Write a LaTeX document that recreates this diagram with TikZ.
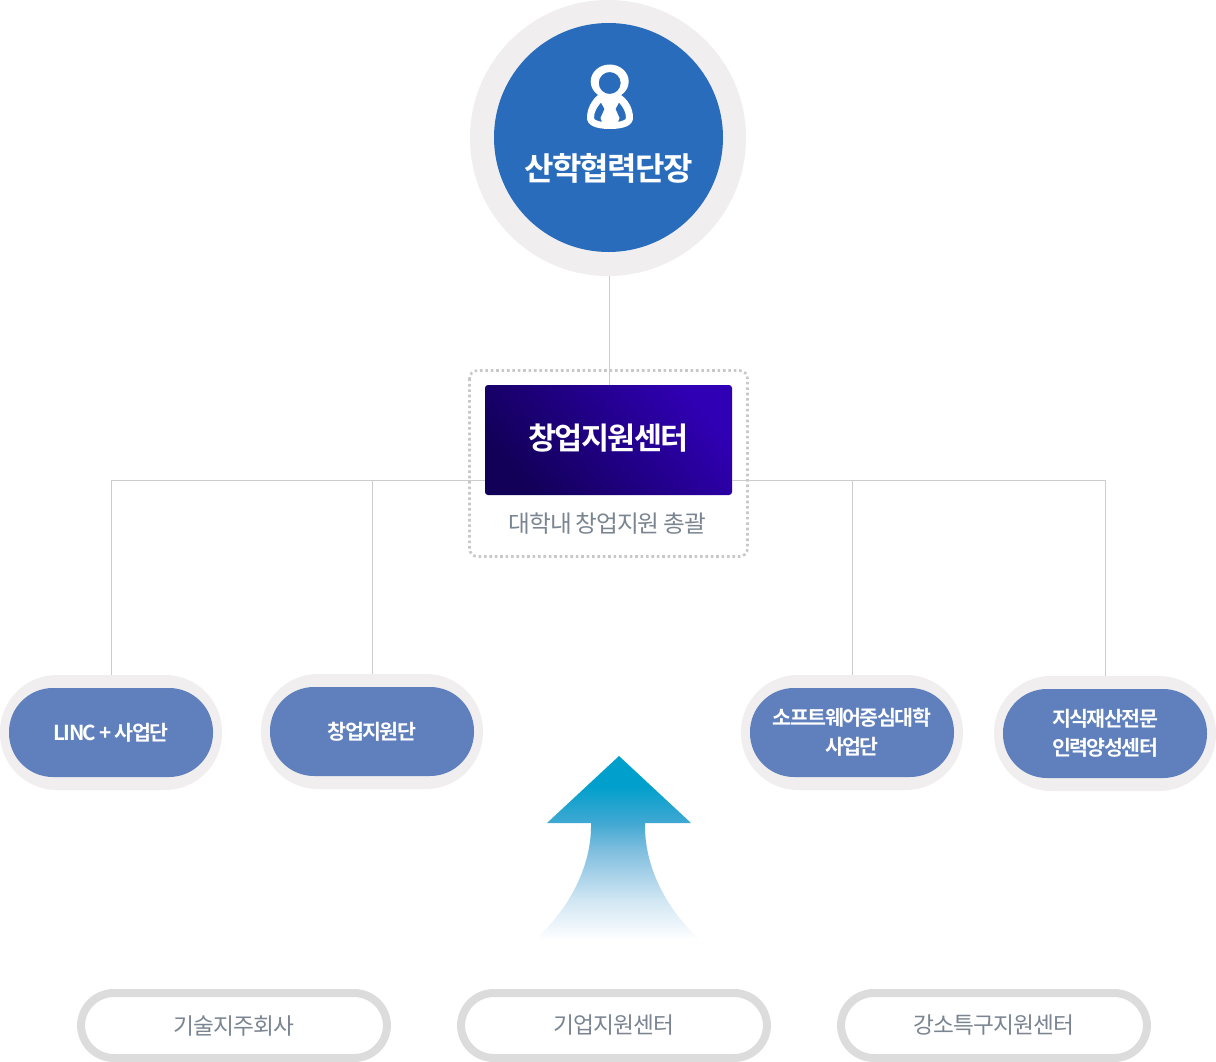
\documentclass[tikz,border=0pt]{standalone}
\usepackage{fontspec}
\setmainfont{Noto Sans CJK KR}
\newfontfamily\krbtight[LetterSpace=-5.5]{Noto Sans CJK KR Bold}
\newfontfamily\krpill[LetterSpace=-7.5]{Noto Sans CJK KR Bold}
\newfontfamily\krsub[LetterSpace=-5]{Noto Sans CJK KR}
\newfontfamily\krbot[LetterSpace=-4]{Noto Sans CJK KR}
\usetikzlibrary{shapes.geometric}
\definecolor{ringgrey}{HTML}{F0EEEF}
\definecolor{topblue}{HTML}{296CBC}
\definecolor{pillblue}{HTML}{5F80BC}
\definecolor{linegrey}{HTML}{CCCCCC}
\definecolor{subgrey}{HTML}{7A8591}
\definecolor{botring}{HTML}{DCDCDC}
\definecolor{dotgrey}{HTML}{C8C8C8}
\definecolor{boxdark}{HTML}{120058}
\definecolor{boxlight}{HTML}{3000B4}
\definecolor{arrowblue}{HTML}{009FCC}
\definecolor{arrowa}{HTML}{40A8D2}
\definecolor{arrowb}{HTML}{7FBEDF}
\definecolor{arrowc}{HTML}{D0E6F3}
\pgfdeclareverticalshading{arrowfade}{100bp}{color(0bp)=(white); color(25bp)=(white); color(36bp)=(arrowc); color(49.5bp)=(arrowb); color(56.8bp)=(arrowa); color(67bp)=(arrowblue); color(100bp)=(arrowblue)}
\tikzset{
  x=1pt,y=-1pt,
  conn/.style={draw=linegrey,line width=1pt},
  ringpill/.style={rectangle,rounded corners=57pt,fill=ringgrey,minimum width=222pt,minimum height=115pt,inner sep=0pt},
  bluepill/.style={rectangle,rounded corners=44pt,fill=pillblue,minimum width=204pt,minimum height=89pt,inner sep=0pt,text=white,align=center,font=\krpill\fontsize{20.6}{29}\selectfont},
  botpill/.style={rectangle,rounded corners=33pt,draw=botring,line width=8pt,fill=white,minimum width=306pt,minimum height=65pt,inner sep=0pt,text=subgrey,font=\krbot\fontsize{22.7}{26}\selectfont},
}
\begin{document}
\begin{tikzpicture}
\useasboundingbox (0,0) rectangle (1216,1062);
\fill[white] (0,0) rectangle (1216,1062);
% top circle
\node[circle,fill=ringgrey,minimum size=276pt,inner sep=0pt] (outer) at (608,138) {};
\node[circle,fill=topblue,minimum size=229pt,inner sep=0pt] (inner) at (608.5,137.5) {};
% icon
\fill[white,even odd rule] (609.7,81.5) ellipse[x radius=19,y radius=17] (609.7,83) circle[radius=11];
\fill[white,even odd rule]
  (587,118) .. controls (587,108) and (592,100) .. (598,95) .. controls (604,98) and (615,98) .. (621,95) .. controls (628,100) and (633,108) .. (633,118) .. controls (633,125) and (625,129) .. (610,129) .. controls (595,129) and (587,125) .. (587,118) -- cycle
  (594,118) .. controls (594,112) and (597,107) .. (601,102.5) -- (604.5,109) -- (600.5,118) -- (602,122) .. controls (598,121) and (594,120) .. (594,118) -- cycle
  (626,118) .. controls (626,112) and (623,107) .. (619,102.5) -- (615.5,109) -- (619.5,118) -- (618,122) .. controls (622,121) and (626,120) .. (626,118) -- cycle;
\node[text=white,font=\krbtight\fontsize{32}{34}\selectfont,inner sep=0pt] (toplabel) at (608.5,168.5) {산학협력단장};
% dotted frame
\draw[dotgrey,line width=2.6pt,rounded corners=8pt,dash pattern=on 2.6pt off 2.8pt] (469.5,370.5) rectangle (747.5,556.5);
% connectors
\coordinate (hl) at (111,480);
\coordinate (hr) at (1105,480);
% pills
\node[ringpill] (r1) at (111,732.5) {};
\node[ringpill] (r2) at (372,731.5) {};
\node[ringpill] (r3) at (852,732.5) {};
\node[ringpill] (r4) at (1105,733.5) {};
\node[bluepill] (p1) at (111,732.5) {LINC + 사업단};
\node[bluepill] (p2) at (372,731.5) {창업지원단};
\node[bluepill] (p3) at (852,732.5) {소프트웨어중심대학\\사업단};
\node[bluepill] (p4) at (1105,733.5) {지식재산전문\\인력양성센터};
% centre box
\node[rectangle,rounded corners=3pt,minimum width=247pt,minimum height=110pt,inner sep=0pt,
  shading=axis,top color=boxlight,bottom color=boxdark,shading angle=-50] (box) at (608.5,440) {};
\draw[conn] ([xshift=1pt]outer.south) -- ([xshift=.5pt]box.north);
\draw[conn] (r1.north) -- (hl) -- (box.west |- hl);
\draw[conn] (box.east |- hr) -- (hr) -- (r4.north);
\draw[conn] (r2.north) -- (372,480);
\draw[conn] (r3.north) -- (852,480);
\node[text=white,font=\krbtight\fontsize{30.5}{34}\selectfont,inner sep=0pt] (boxlabel) at (608.5,438) {창업지원센터};
\node[text=subgrey,font=\krsub\fontsize{23.7}{26}\selectfont,inner sep=0pt] (sub) at (607.5,524) {대학내 창업지원 총괄};
% arrow
\shade[shading=arrowfade]
  (619,756) -- (691,823) -- (645,823) .. controls (644,865) and (665,908) .. (700,940) -- (535,940) .. controls (570,908) and (592,865) .. (591,823) -- (547,823) -- cycle;
% bottom
\node[botpill] (b1) at (234,1025.5) {기술지주회사};
\node[botpill] (b2) at (614,1025.5) {기업지원센터};
\node[botpill] (b3) at (994,1025.5) {강소특구지원센터};
\end{tikzpicture}
\end{document}
